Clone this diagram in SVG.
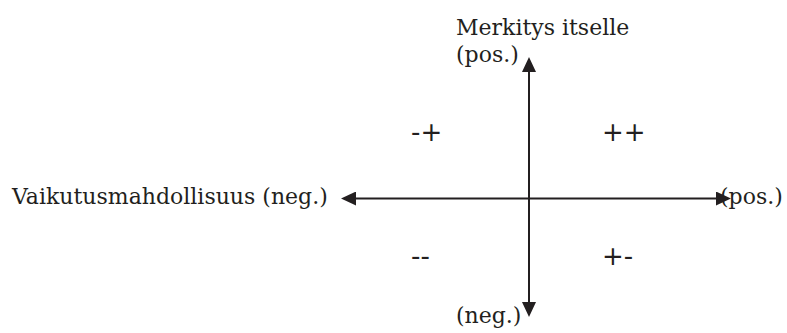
<svg xmlns="http://www.w3.org/2000/svg" width="787" height="333" viewBox="0 0 787 333">
  <style>
    .lbl { font-family: "DejaVu Serif", "Liberation Serif", serif; font-size: 22px; fill: #231f20; }
    .sgn { font-family: "DejaVu Sans", "Liberation Sans", sans-serif; font-size: 26px; fill: #231f20; }
    .axis { stroke: #231f20; stroke-width: 2; fill: none; }
  </style>
  <defs>
    <marker id="arr" markerUnits="userSpaceOnUse" markerWidth="15" markerHeight="14" viewBox="0 0 15 14" refX="10" refY="7" orient="auto-start-reverse">
      <path d="M0,0 L15,7 L0,14 z" fill="#231f20"/>
    </marker>
  </defs>
  <rect width="787" height="333" fill="#ffffff"/>
  <g id="connectors">
    <line class="axis" x1="346" y1="198.5" x2="726" y2="198.5" marker-start="url(#arr)" marker-end="url(#arr)"/>
    <line class="axis" x1="529" y1="62" x2="529" y2="312" marker-start="url(#arr)" marker-end="url(#arr)"/>
  </g>
  <g id="label-top">
    <text class="lbl" x="456" y="35">Merkitys itselle</text>
    <text class="lbl" x="456" y="62">(pos.)</text>
  </g>
  <g id="label-bottom">
    <text class="lbl" x="456" y="323">(neg.)</text>
  </g>
  <g id="label-left">
    <text class="lbl" x="12" y="204">Vaikutusmahdollisuus (neg.)</text>
  </g>
  <g id="label-right">
    <text class="lbl" x="720" y="204">(pos.)</text>
  </g>
  <g id="q-minus-plus"><text class="sgn" x="411" y="141">-+</text></g>
  <g id="q-plus-plus"><text class="sgn" x="602" y="141">++</text></g>
  <g id="q-minus-minus"><text class="sgn" x="411" y="265">--</text></g>
  <g id="q-plus-minus"><text class="sgn" x="602" y="265">+-</text></g>
</svg>
